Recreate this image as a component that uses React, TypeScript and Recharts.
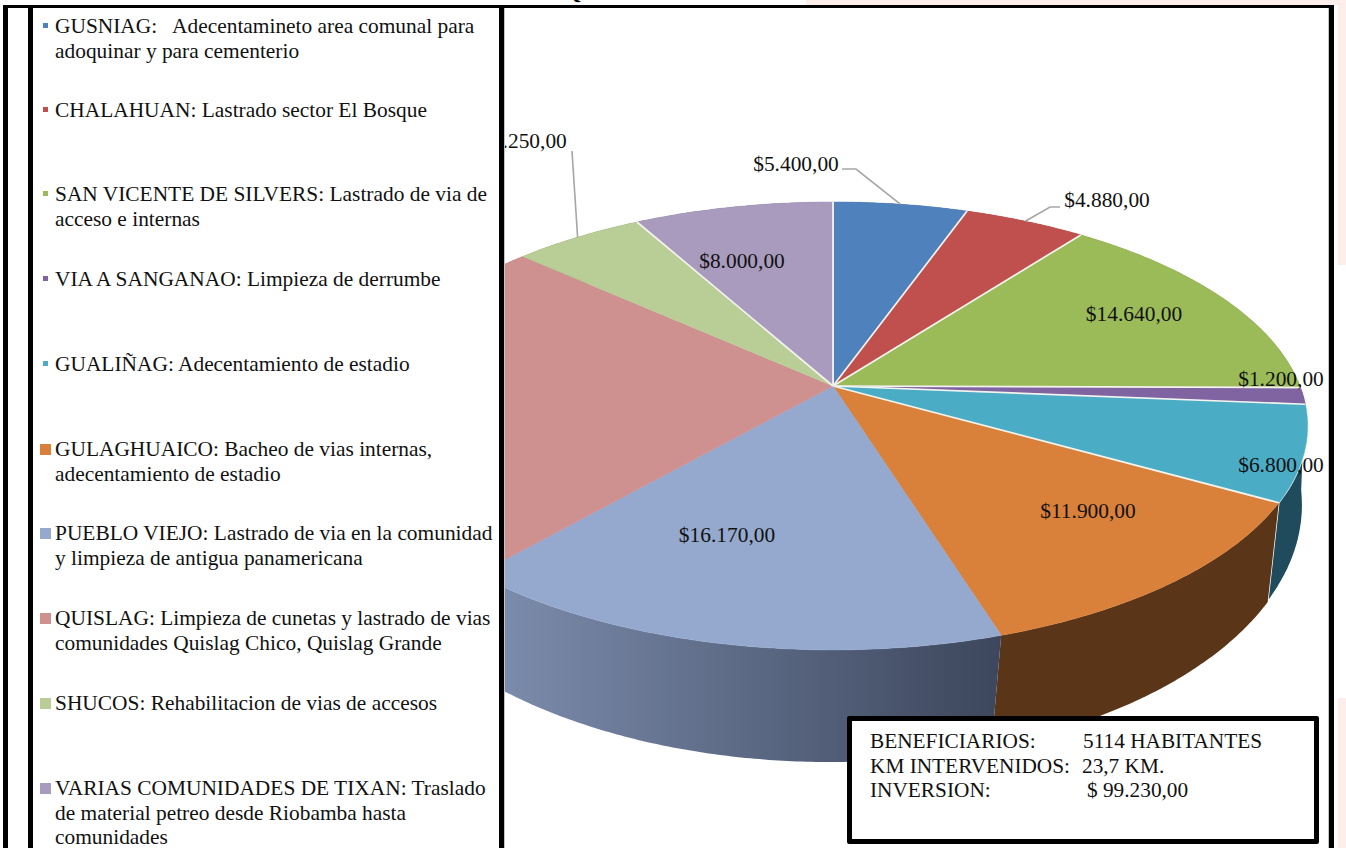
import React from 'react';
import { PieChart, Pie, Legend } from 'recharts';

const communities = ['GUSNIAG', 'CHALAHUAN', 'SAN VICENTE DE SILVERS', 'VIA A SANGANAO', 'GUALIÑAG', 'GULAGHUAICO', 'PUEBLO VIEJO', 'QUISLAG', 'SHUCOS', 'VARIAS COMUNIDADES DE TIXAN'];
const investment = [5400, 4880, 14640, 1200, 6800, 11900, 16170, 24990, 5250, 8000];
const topColors = ['#4f81bd', '#c0504d', '#9bbb59', '#8064a2', '#4bacc6', '#d9803b', '#95a9cf', '#cf9090', '#b9cd96', '#a89bbd'];
const wallColors = ['#2f4d71', '#73302e', '#5d7035', '#4c3c61', '#1f4b5c', '#5a3517', 'url(#blueWall)', '#7b5656', '#6f7b5a', '#655d71'];
// white seam on the leading edge of each slice; the lower left ones have none
const seams = [true, true, true, true, true, true, false, false, false, true];

const legendLines = [
    ['GUSNIAG:   Adecentamineto area comunal para', 'adoquinar y para cementerio'],
    ['CHALAHUAN: Lastrado sector El Bosque'],
    ['SAN VICENTE DE SILVERS: Lastrado de via de', 'acceso e internas'],
    ['VIA A SANGANAO: Limpieza de derrumbe'],
    ['GUALIÑAG: Adecentamiento de estadio'],
    ['GULAGHUAICO: Bacheo de vias internas,', 'adecentamiento de estadio'],
    ['PUEBLO VIEJO: Lastrado de via en la comunidad', 'y limpieza de antigua panamericana'],
    ['QUISLAG: Limpieza de cunetas y lastrado de vias', 'comunidades Quislag Chico, Quislag Grande'],
    ['SHUCOS: Rehabilitacion de vias de accesos'],
    ['VARIAS COMUNIDADES DE TIXAN: Traslado', 'de material petreo desde Riobamba hasta', 'comunidades'],
];
const legendRowTops = [14, 98, 182, 267, 352, 437, 521, 606, 691, 776];

const summaryRows = [
    ['BENEFICIARIOS:', '5114 HABITANTES', 1083],
    ['KM INTERVENIDOS:', '23,7 KM.', 1082],
    ['INVERSION:', '$ 99.230,00', 1087],
];

const topData = communities.map((name, i) => ({ name, value: investment[i], fill: topColors[i] }));
const wallData = communities.map((name, i) => ({ name, value: investment[i], fill: wallColors[i] }));

const FONT = '"Liberation Serif", serif';
const RAD = Math.PI / 180;

// the pie is tilted: a circle seen in perspective, not a plain ellipse
const TILT = 0.4643;
const SKEW = 0.1783;
const project = (cx: number, cy: number, r: number, deg: number) => {
    const x = Math.cos(deg * RAD);
    const y = Math.sin(deg * RAD);
    const d = 1 + SKEW * y;
    return [cx + (r * x) / d, cy - (r * TILT * y) / d];
};
// rim of the underside of the pie
const projectBottom = (deg: number) => {
    const x = Math.cos(deg * RAD);
    const y = Math.sin(deg * RAD);
    const d = 1 + 0.14 * y;
    return [830 + (468 * x) / d, 469 - (252 * y) / d];
};

const steps = (start: number, end: number) => {
    const n = Math.max(2, Math.ceil(Math.abs(start - end) * 2));
    return Array.from({ length: n + 1 }, (_, i) => start + ((end - start) * i) / n);
};
const toPath = (pts: number[][]) => pts.map((p, i) => `${i ? 'L' : 'M'}${p[0].toFixed(1)},${p[1].toFixed(1)}`).join(' ') + ' Z';

const TopSlice = (props: any) => {
    const { cx, cy, outerRadius, startAngle, endAngle, fill, name } = props;
    const rim = steps(startAngle, endAngle).map((a) => project(cx, cy, outerRadius, a));
    const i = communities.indexOf(name);
    const seam = (p: number[]) => <line x1={cx} y1={cy} x2={p[0]} y2={p[1]} stroke="#f4f4ee" strokeWidth={1.7} />;
    return (
        <g>
            <path d={toPath([[cx, cy], ...rim])} fill={fill} stroke={fill} strokeWidth={0.5} />
            {seams[i] && seam(rim[0])}
            {i === communities.length - 1 && seam(rim[rim.length - 1])}
        </g>
    );
};

const WallSlice = (props: any) => {
    const { cx, cy, outerRadius, startAngle, endAngle, fill } = props;
    const angles = steps(startAngle, endAngle);
    const upper = angles.map((a) => project(cx, cy, outerRadius, a));
    const lower = angles.map((a) => projectBottom(a)).reverse();
    const isTeal = fill === wallColors[4];
    return <path d={toPath([...upper, ...lower])} fill={fill} stroke={isTeal ? '#ffffff' : 'none'} strokeWidth={1.5} />;
};

const formatMoney = (v: number) => '$' + String(v).replace(/\B(?=(\d{3})+$)/g, '.') + ',00';

// centre of each value label; QUISLAG's own label sits behind the legend in the original
const labelCentres: (number[] | null)[] = [[796, 164], [1107, 200], [1134, 314], [1281, 379], [1281, 465], [1088, 511], [727, 535], null, [524, 141], [742, 261]];
const leaderStarts: (number[][] | null)[] = [[[842, 169], [856, 169]], [[1060, 207], [1050, 207]], null, null, null, null, null, null, [[572, 151]], null];

const ValueLabel = (props: any) => {
    const { cx, cy, outerRadius, midAngle, value, index } = props;
    const pos = labelCentres[index];
    if (!pos) return null;
    const lead = leaderStarts[index];
    const rim = project(cx, cy, outerRadius, midAngle);
    return (
        <g>
            {lead && <polyline points={[...lead, rim].map((p) => p.join(',')).join(' ')} fill="none" stroke="#a6a6a6" strokeWidth={1.6} />}
            <text x={pos[0]} y={pos[1]} textAnchor="middle" dominantBaseline="central" fontFamily={FONT} fontSize={21.4} fill="#111">{formatMoney(value)}</text>
        </g>
    );
};

const LegendPanel = (props: any) => (
    <div style={{ position: 'absolute', left: 28, top: 8, width: 476, height: 840, background: '#fff', borderLeft: '5px solid #000', borderRight: '5px solid #000', boxSizing: 'border-box' }}>
        {(props.payload || []).slice(-communities.length).map((entry: any, i: number) => {
            const big = i >= 5;
            return (
                <div key={communities[i]} style={{ position: 'absolute', left: 0, top: legendRowTops[i] - 8 }}>
                    <div style={{ position: 'absolute', left: big ? 7 : 10, top: big ? 7 : 9, width: big ? 11 : 5, height: big ? 11 : 5, background: topColors[i] }} />
                    {legendLines[i].map((line) => (
                        <div key={line} style={{ marginLeft: 22, height: 24.5, lineHeight: '24.5px', whiteSpace: 'pre', fontFamily: FONT, fontSize: 21.4, color: '#111' }}>{line}</div>
                    ))}
                </div>
            );
        })}
    </div>
);

const App = () => {
    return (
        <div style={{ position: 'absolute', left: 0, top: 0, width: 1346, height: 848, overflow: 'hidden', background: '#fff' }}>
            {/* pink page showing around the frame */}
            <div style={{ position: 'absolute', left: 806, top: 0, width: 540, height: 5, background: '#fdeeec' }} />
            <div style={{ position: 'absolute', left: 1338, top: 0, width: 8, height: 265, background: '#fdeeec' }} />
            <div style={{ position: 'absolute', left: 1338, top: 698, width: 8, height: 150, background: '#fdeeec' }} />
            <div style={{ position: 'absolute', left: 565, top: -20, fontFamily: FONT, fontWeight: 'bold', fontSize: 21, lineHeight: '24px' }}>Q</div>

            <div style={{ position: 'absolute', left: 0, top: 0 }}>
                <PieChart width={1346} height={848} margin={{ top: 0, right: 0, bottom: 0, left: 0 }}>
                    <defs>
                        <linearGradient id="blueWall" gradientUnits="userSpaceOnUse" x1="504" y1="0" x2="1002" y2="0">
                            <stop offset="0%" stopColor="#7b8bab" />
                            <stop offset="100%" stopColor="#3c465c" />
                        </linearGradient>
                    </defs>
                    <Pie data={wallData} dataKey="value" nameKey="name" cx={833} cy={386} outerRadius={467} startAngle={90} endAngle={-270} stroke="none" legendType="none" shape={WallSlice} label={false} labelLine={false} isAnimationActive={false} />
                    <Pie data={topData} dataKey="value" nameKey="name" cx={833} cy={386} outerRadius={467} startAngle={90} endAngle={-270} shape={TopSlice} label={ValueLabel} labelLine={false} isAnimationActive={false} />
                    <Legend content={LegendPanel} wrapperStyle={{ position: 'absolute', left: 0, top: 0, width: 0, height: 0 }} />
                </PieChart>
            </div>

            {/* frame */}
            <div style={{ position: 'absolute', left: 3, top: 5, width: 1331, height: 3, background: '#000' }} />
            <div style={{ position: 'absolute', left: 3, top: 5, width: 5, height: 843, background: '#000' }} />
            <div style={{ position: 'absolute', left: 1329, top: 5, width: 5, height: 843, background: '#000' }} />
            <div style={{ position: 'absolute', left: 1328, top: 8, width: 1, height: 840, background: '#c4c4c4' }} />
            <div style={{ position: 'absolute', left: 504, top: 8, width: 1, height: 840, background: '#c4c4c4' }} />

            {/* summary box */}
            <div style={{ position: 'absolute', left: 847, top: 716, width: 472, height: 128, boxSizing: 'border-box', border: '5px solid #000', borderRadius: 2, background: '#fff' }} />
            {summaryRows.map((row, i) => (
                <React.Fragment key={row[0]}>
                    <div style={{ position: 'absolute', left: 870, top: 729 + i * 24.6, lineHeight: '24px', fontFamily: FONT, fontSize: 21.3, color: '#111', whiteSpace: 'pre' }}>{row[0]}</div>
                    <div style={{ position: 'absolute', left: row[2] as number, top: 729 + i * 24.6, lineHeight: '24px', fontFamily: FONT, fontSize: 21.3, color: '#111', whiteSpace: 'pre' }}>{row[1]}</div>
                </React.Fragment>
            ))}
        </div>
    );
};

export default App;
